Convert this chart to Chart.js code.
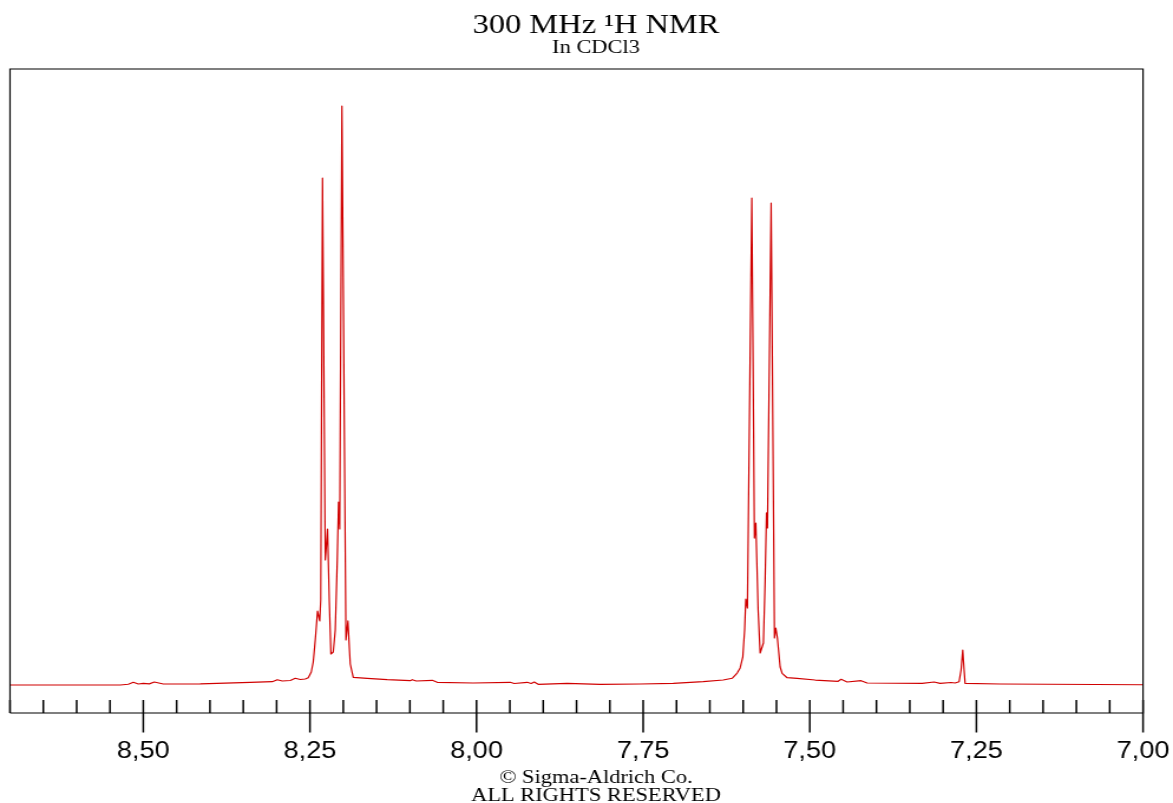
<!DOCTYPE html>
<html>
<head>
<meta charset="utf-8">
<title>300 MHz 1H NMR</title>
<script src="https://cdn.jsdelivr.net/npm/chart.js@4.4.1/dist/chart.umd.min.js"></script>
<style>
  html, body { margin: 0; padding: 0; background: #fff; overflow: hidden; }
  /* the plot is laid out narrow and widened horizontally */
  #frame { width: 994px; height: 803px; transform: scaleX(1.18008); transform-origin: 0 0; }
</style>
</head>
<body>
<div id="frame"><canvas id="spectrum"></canvas></div>
<script>
// chemical shift (ppm) and relative intensity of the trace
const shifts = [
  8.700, 8.6245, 8.5345, 8.5225, 8.515, 8.5075, 8.500, 8.491, 8.4835, 8.470,
  8.4145, 8.3395, 8.3065, 8.299, 8.2915, 8.2795, 8.272, 8.2645, 8.257, 8.2525,
  8.248, 8.245, 8.242, 8.2386, 8.2353, 8.2338, 8.2311, 8.227, 8.226, 8.2236,
  8.221, 8.2185, 8.215, 8.212, 8.209, 8.2071, 8.2053, 8.202, 8.196, 8.193,
  8.1895, 8.185, 8.164, 8.134, 8.0995, 8.0965, 8.0905, 8.0665, 8.059, 8.005,
  7.9495, 7.9435, 7.924, 7.918, 7.9135, 7.9075, 7.864, 7.8145, 7.7545, 7.705,
  7.660, 7.630, 7.6165, 7.609, 7.6045, 7.6005, 7.5978, 7.596, 7.5936, 7.587,
  7.5831, 7.581, 7.5775, 7.5745, 7.5696, 7.567, 7.565, 7.5635, 7.558, 7.553,
  7.551, 7.5486, 7.5445, 7.5415, 7.534, 7.519, 7.492, 7.4575, 7.453, 7.444,
  7.423, 7.414, 7.3315, 7.3135, 7.3045, 7.288, 7.282, 7.276, 7.273, 7.2705,
  7.2685, 7.267, 7.2145, 7.000
];
const intensities = [
  4.35, 4.35, 4.35, 4.46, 4.77, 4.50, 4.61, 4.53, 4.81, 4.50,
  4.53, 4.77, 4.86, 5.17, 4.97, 5.05, 5.39, 5.20, 5.28, 5.48,
  6.37, 7.92, 11.34, 15.84, 14.29, 17.55, 83.07, 23.76, 25.0, 28.57,
  17.55, 9.16, 9.47, 12.89, 23.76, 32.76, 28.57, 94.25, 11.34, 14.29,
  7.61, 5.54, 5.39, 5.17, 5.02, 5.17, 4.97, 5.08, 4.77, 4.66,
  4.77, 4.58, 4.77, 4.58, 4.81, 4.46, 4.61, 4.46, 4.50, 4.61,
  4.86, 5.12, 5.39, 6.21, 6.99, 8.70, 12.89, 17.70, 16.30, 79.97,
  27.17, 29.50, 16.0, 9.32, 10.87, 20.65, 31.06, 28.73, 79.19, 11.65,
  13.20, 11.65, 7.14, 6.16, 5.48, 5.39, 5.12, 4.92, 5.23, 4.81,
  5.02, 4.66, 4.61, 4.81, 4.61, 4.74, 4.66, 4.86, 6.68, 9.78,
  6.68, 4.61, 4.50, 4.39
];

const majorTicks = [8.50, 8.25, 8.00, 7.75, 7.50, 7.25, 7.00];
const tickLabels = ['8,50', '8,25', '8,00', '7,75', '7,50', '7,25', '7,00'];
const titleLines = ['300 MHz \u00B9H NMR', 'In CDCl3'];
const footerLines = ['\u00A9 Sigma-Aldrich Co.', 'ALL RIGHTS RESERVED'];

const points = shifts.map((x, i) => ({ x: x, y: intensities[i] }));

function majorIndex(v) {
  return majorTicks.findIndex(m => Math.abs(m - v) < 1e-6);
}

// box around the plot, tick marks and the caption text
const frame = {
  id: 'frame',
  afterDraw(chart) {
    const { ctx, chartArea: a } = chart;
    const xs = chart.scales.x;
    ctx.save();
    ctx.strokeStyle = '#000';
    ctx.lineWidth = 1.2;
    ctx.beginPath();
    ctx.moveTo(a.left, a.bottom);
    ctx.lineTo(a.left, a.top);
    ctx.lineTo(a.right, a.top);
    ctx.lineTo(a.right, a.bottom);
    ctx.lineTo(a.left, a.bottom);
    ctx.stroke();

    ctx.lineWidth = 1.5;
    xs.ticks.forEach(t => {
      const px = xs.getPixelForValue(t.value);
      const major = majorIndex(t.value) >= 0;
      ctx.beginPath();
      ctx.moveTo(px, a.bottom - 13);
      ctx.lineTo(px, a.bottom + (major ? 19.5 : 0));
      ctx.stroke();
    });

    const cx = (a.left + a.right) / 2 + 16.5;
    ctx.fillStyle = '#000';
    ctx.textAlign = 'center';
    ctx.textBaseline = 'alphabetic';
    ctx.font = '27.5px "Liberation Serif", "Times New Roman", serif';
    ctx.fillText(titleLines[0], cx, 33);
    ctx.font = '19px "Liberation Serif", "Times New Roman", serif';
    ctx.fillText(titleLines[1], cx, 53);
    ctx.font = '19px "Liberation Serif", "Times New Roman", serif';
    ctx.fillText(footerLines[0], cx, 783);
    ctx.fillText(footerLines[1], cx, 801);
    ctx.restore();
  }
};

new Chart(document.getElementById('spectrum'), {
  type: 'scatter',
  data: {
    datasets: [{
      data: points,
      showLine: true,
      borderColor: '#d00000',
      borderWidth: 1.2,
      borderJoinStyle: 'round',
      pointRadius: 0,
      tension: 0
    }]
  },
  options: {
    responsive: true,
    maintainAspectRatio: false,
    animation: false,
    events: [],
    layout: { padding: { left: 8.475, right: 25.4, top: 69, bottom: 0 } },
    plugins: {
      legend: { display: false },
      tooltip: { enabled: false }
    },
    scales: {
      x: {
        type: 'linear',
        reverse: true,
        min: 7.0,
        max: 8.7,
        grid: { display: false, drawTicks: false },
        border: { display: false },
        ticks: {
          stepSize: 0.05,
          autoSkip: false,
          maxRotation: 0,
          padding: 27,
          color: '#000',
          font: { family: '"Liberation Sans", Arial, sans-serif', size: 23, lineHeight: 1 },
          callback: function (value) {
            const i = majorIndex(value);
            return i >= 0 ? tickLabels[i] : '';
          }
        },
        afterFit: function (scale) {
          scale.height = 90;
          // the edge labels fit inside the layout padding
          scale.paddingLeft = 0;
          scale.paddingRight = 0;
        }
      },
      y: {
        display: false,
        min: 0,
        max: 100
      }
    }
  },
  plugins: [frame]
});
</script>
</body>
</html>
